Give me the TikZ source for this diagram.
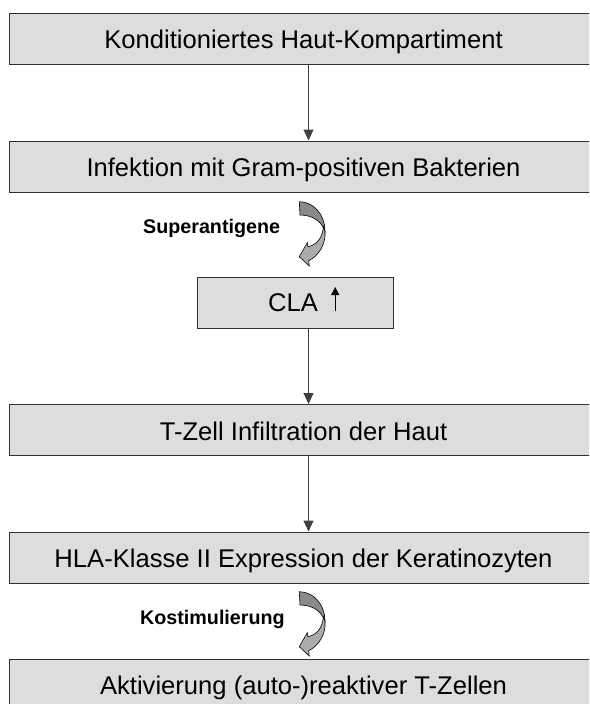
\documentclass[tikz,border=0pt]{standalone}
\usepackage{fontspec}
\setmainfont{Liberation Sans}
\usetikzlibrary{arrows.meta}
\definecolor{boxfill}{HTML}{DDDDDD}
\definecolor{boxline}{HTML}{303030}
\definecolor{connline}{HTML}{404040}
\definecolor{darkcurve}{HTML}{8A8A8A}
\definecolor{lightcurve}{HTML}{ABABAB}
\tikzset{
  curvarrow/.pic={
    \filldraw[fill=darkcurve, draw=black, line width=0.6pt]
      (-25.7,-30) .. controls (-12,-30) and (0,-18) .. (0,0)
      .. controls (-3,-10) and (-12,-16.7) .. (-25,-16.7) -- cycle;
    \filldraw[fill=lightcurve, draw=black, line width=0.6pt]
      (0,0) .. controls (1,12) and (-6,24) .. (-16.3,29)
      -- (-15.7,34.3) -- (-25.7,25) -- (-17.7,11) -- (-17,15)
      .. controls (-9,13) and (-3,8) .. (-1.5,-5) -- cycle;
  }
}
\begin{document}
\begin{tikzpicture}[x=1pt,y=-1pt,
  stepbox/.style={draw=boxline, fill=boxfill, line width=1pt, rectangle,
    inner sep=0pt, minimum height=51pt, text height=20pt, text depth=0pt,
    font=\fontsize{25.6}{30}\selectfont},
  widebox/.style={stepbox, minimum width=588.4pt},
  conn/.style={draw=connline, line width=1pt, -{Triangle[length=11pt,width=10pt]}},
  lbl/.style={font=\bfseries\fontsize{19.7}{23}\selectfont, inner sep=0pt}
]
\useasboundingbox (0,0) rectangle (589,704);
\clip (0,0) rectangle (589,704);

\node[widebox] (b1) at (303.5,38.5) {Konditioniertes Haut-Kompartiment};
\node[widebox] (b2) at (303.5,166.5) {Infektion mit Gram-positiven Bakterien};
\node[stepbox, minimum width=196pt] (cla) at (295,302.5) {};
\node[anchor=base west, inner sep=0pt, font=\fontsize{25.6}{30}\selectfont] (clat) at (268,311) {CLA};
\node[widebox] (b3) at (303.5,430) {T-Zell Infiltration der Haut};
\node[widebox] (b4) at (303.5,557.5) {HLA-Klasse II Expression der Keratinozyten};
\node[widebox] (b5) at (303.5,684.5) {Aktivierung (auto-)reaktiver T-Zellen};

\coordinate (ax) at (308.5,0);
\draw[conn] (b1.south -| ax) -- (b2.north -| ax);
\draw[conn] (cla.south -| ax) -- (b3.north -| ax);
\draw[conn] (b3.south -| ax) -- (b4.north -| ax);

\draw[draw=black, line width=1pt, -{Triangle[length=8pt,width=8pt]}]
  ([xshift=17pt]clat.base east) -- ++(0,-24);

\node[lbl, anchor=base west] (sa) at (143,233.3) {Superantigene};
\node[lbl, anchor=base west] (ks) at (140,624) {Kostimulierung};

\pic at (325,231.7) {curvarrow};
\pic at (325,621.7) {curvarrow};
\end{tikzpicture}
\end{document}
